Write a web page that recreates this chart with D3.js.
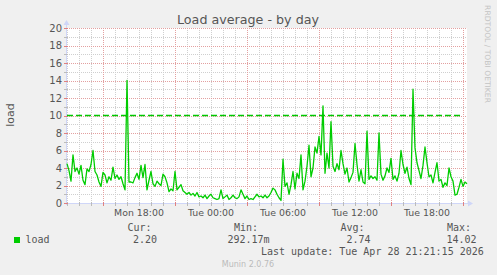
<!DOCTYPE html>
<html><head><meta charset="utf-8">
<script src="https://cdn.jsdelivr.net/npm/d3@7"></script>
<style>
html,body{margin:0;padding:0;background:#F0F0F0;}
svg{display:block;}
</style></head>
<body>
<svg id="chart" width="497" height="275"></svg>
<script>
// ---- data ----
const title = "Load average - by day";
const yLabel = "load";
const startTime = new Date(2026, 3, 27, 12, 0);   // Mon 12:00
const endTime   = new Date(2026, 3, 28, 21, 20);  // Tue 21:20
const stepMinutes = 10;
const loadValues = [
 4.5, 3.7, 2.5, 5.5, 3.6, 4.0, 3.3, 4.3, 2.6, 2.1,
 3.9, 3.6, 4.4, 6.0, 3.6, 3.2, 2.4, 1.9, 3.5, 3.2,
 2.3, 3.0, 2.6, 4.1, 2.8, 3.2, 2.7, 3.0, 2.2, 1.5,
 14.02, 2.4, 2.4, 2.3, 2.9, 3.4, 2.7, 4.3, 2.9, 4.4,
 1.5, 2.6, 3.6, 2.2, 1.9, 2.5, 2.2, 2.0, 3.3, 3.0,
 2.3, 1.3, 1.6, 1.4, 3.6, 1.5, 1.8, 2.1, 1.4, 1.2,
 1.0, 1.2, 0.9, 1.1, 0.8, 1.2, 0.7, 0.8, 0.6, 0.9,
 0.5, 0.8, 1.0, 0.6, 0.5, 0.4, 0.5, 1.5, 0.5, 0.7,
 0.9, 0.4, 0.6, 0.9, 0.6, 0.5, 0.7, 1.5, 1.0, 0.5,
 0.8, 0.4, 0.5, 0.4, 0.7, 1.0, 0.7, 0.8, 0.6, 0.9,
 0.6, 0.8, 1.2, 1.7, 1.5, 1.0, 0.6, 0.29, 5.0, 1.9,
 2.3, 1.0, 2.1, 3.6, 1.6, 3.4, 2.8, 5.5, 1.5, 2.5,
 4.2, 6.6, 3.0, 4.0, 6.4, 5.7, 7.6, 5.5, 11.1, 3.4,
 5.7, 4.0, 9.3, 4.2, 3.6, 4.5, 3.8, 6.0, 4.5, 3.3,
 4.0, 2.4, 2.9, 3.5, 6.8, 4.4, 2.5, 3.8, 2.4, 2.2,
 8.2, 2.7, 3.1, 2.8, 3.0, 2.6, 8.0, 3.3, 2.6, 3.1,
 4.0, 3.5, 5.1, 2.7, 3.1, 2.5, 3.4, 6.0, 4.4, 3.4,
 4.1, 2.8, 2.1, 13.0, 6.3, 4.6, 3.7, 2.8, 4.3, 6.4,
 4.6, 3.0, 3.2, 2.3, 3.5, 4.6, 2.5, 2.7, 1.8, 2.3,
 2.0, 4.0, 3.0, 2.5, 0.9, 1.0, 1.8, 2.7, 1.9, 2.4,
 2.2
];
const warningLevel = 10;
const yTickValues = [0, 2, 4, 6, 8, 10, 12, 14, 16, 18, 20];
const legendHeaders = ["Cur:", "Min:", "Avg:", "Max:"];
const legendStats = ["2.20", "292.17m", "2.74", "14.02"];
const seriesName = "load";
const lastUpdate = "Last update: Tue Apr 28 21:21:15 2026";
const footer = "Munin 2.0.76";
const watermark = "RRDTOOL / TOBI OETIKER";

// ---- chart ----
const svg = d3.select("#chart");
const L = 67, R = 467, T = 28, B = 203;
const x = d3.scaleTime().domain([startTime, endTime]).range([L, R]);
const y = d3.scaleLinear().domain([0, 20]).range([B, T]);

svg.append("rect").attr("width", 497).attr("height", 275).attr("fill", "#F0F0F0");
svg.append("rect").attr("x", L).attr("y", T).attr("width", R - L).attr("height", B - T).attr("fill", "#FFFFFF");

const grid = svg.append("g").attr("shape-rendering", "crispEdges");
// minor grid
const hours = d3.timeHour.range(startTime, endTime);
grid.selectAll(".vmin").data(hours).join("line")
  .attr("x1", d => Math.round(x(d)) + 0.5).attr("x2", d => Math.round(x(d)) + 0.5)
  .attr("y1", T).attr("y2", B)
  .attr("stroke", "#CFCFCF").attr("stroke-dasharray", "1,1");
const yMinor = d3.range(1, 20, 2);
grid.selectAll(".hmin").data(yMinor).join("line")
  .attr("x1", L).attr("x2", R)
  .attr("y1", d => Math.round(y(d)) + 0.5).attr("y2", d => Math.round(y(d)) + 0.5)
  .attr("stroke", "#CFCFCF").attr("stroke-dasharray", "1,1");
// major grid
const majorHours = hours.filter(d => d.getHours() % 6 === 3);
grid.selectAll(".vmaj").data(majorHours).join("line")
  .attr("x1", d => Math.round(x(d)) + 0.5).attr("x2", d => Math.round(x(d)) + 0.5)
  .attr("y1", T).attr("y2", B)
  .attr("stroke", "#E3A0A0").attr("stroke-dasharray", "1,1");
grid.selectAll(".hmaj").data(yTickValues.filter(v => v > 0)).join("line")
  .attr("x1", L).attr("x2", R)
  .attr("y1", d => Math.round(y(d)) + 0.5).attr("y2", d => Math.round(y(d)) + 0.5)
  .attr("stroke", "#E3A0A0").attr("stroke-dasharray", "1,1");

// axes
const axisColor = "#CFD6F8";
const ax = svg.append("g").attr("shape-rendering", "crispEdges");
ax.append("line").attr("x1", L - 0.5).attr("x2", L - 0.5).attr("y1", B + 2).attr("y2", T - 4).attr("stroke", axisColor);
ax.append("line").attr("x1", L - 3).attr("x2", R + 2).attr("y1", B + 0.5).attr("y2", B + 0.5).attr("stroke", axisColor);
svg.append("path").attr("d", `M${L - 3.5},${T - 3} L${L - 0.5},${T - 8} L${L + 2.5},${T - 3} Z`).attr("fill", axisColor);
svg.append("path").attr("d", `M${R + 1},${B - 2.5} L${R + 6},${B + 0.5} L${R + 1},${B + 3.5} Z`).attr("fill", axisColor);
// x ticks
ax.selectAll(".xt").data(hours).join("line")
  .attr("x1", d => Math.round(x(d)) + 0.5).attr("x2", d => Math.round(x(d)) + 0.5)
  .attr("y1", B - 1).attr("y2", B + 3)
  .attr("stroke", d => d.getHours() % 6 === 3 ? "#E08080" : "#BBBBBB");
// y ticks
ax.selectAll(".yt").data(d3.range(0, 21, 1)).join("line")
  .attr("x1", L - 3).attr("x2", L + 1)
  .attr("y1", d => Math.round(y(d)) + 0.5).attr("y2", d => Math.round(y(d)) + 0.5)
  .attr("stroke", d => d % 2 === 0 ? "#E08080" : "#BBBBBB");

const font = "DejaVu Sans, sans-serif";
const mono = "DejaVu Sans Mono, monospace";
const fontColor = "#555555";

// y tick labels
svg.selectAll(".ylab").data(yTickValues).join("text")
  .attr("x", L - 5).attr("y", d => y(d) + 3.5)
  .attr("text-anchor", "end").attr("font-family", font).attr("font-size", 10)
  .attr("fill", fontColor).text(d => d);

// x labels
const labelHours = hours.filter(d => d.getHours() % 6 === 0 && x(d) > L + 30 && x(d) < R - 30);
const fmt = d3.timeFormat("%a %H:%M");
svg.selectAll(".xlab").data(labelHours).join("text")
  .attr("x", d => x(d)).attr("y", 216)
  .attr("text-anchor", "middle").attr("font-family", font).attr("font-size", 9.4)
  .attr("fill", fontColor).text(d => fmt(d));

// warning line
svg.append("line").attr("x1", L).attr("x2", R - 4)
  .attr("y1", y(warningLevel)).attr("y2", y(warningLevel))
  .attr("stroke", "#00C800").attr("stroke-width", 1.4).attr("stroke-dasharray", "6,3");

// data line
const pts = loadValues.map((v, i) => ({ t: d3.timeMinute.offset(startTime, i * stepMinutes), v }));
const line = d3.line().x(d => x(d.t)).y(d => y(d.v));
svg.append("path").datum(pts).attr("d", line)
  .attr("fill", "none").attr("stroke", "#00CC00").attr("stroke-width", 1.3)
  .attr("stroke-linejoin", "round");

// title
svg.append("text").attr("x", 248).attr("y", 24.3).attr("text-anchor", "middle")
  .attr("font-family", font).attr("font-size", 12.7).attr("fill", fontColor).text(title);

// y axis label
svg.append("text").attr("transform", "translate(14,115) rotate(-90)")
  .attr("text-anchor", "middle").attr("font-family", font).attr("font-size", 11)
  .attr("fill", fontColor).text(yLabel);

// watermark
svg.append("text").attr("transform", "translate(485,54) rotate(90)")
  .attr("text-anchor", "middle").attr("font-family", font).attr("font-size", 7.6)
  .attr("fill", "#C4C4C4").text(watermark);

// legend
const headerX = [127.5, 234, 340.5, 447];
const statX = [133, 227.5, 346.5, 446.5];
svg.selectAll(".lh").data(legendHeaders).join("text")
  .attr("x", (d, i) => headerX[i]).attr("y", 231)
  .attr("font-family", mono).attr("font-size", 10).attr("fill", fontColor).text(d => d);
svg.selectAll(".ls").data(legendStats).join("text")
  .attr("x", (d, i) => statX[i]).attr("y", 243)
  .attr("font-family", mono).attr("font-size", 10).attr("fill", fontColor).text(d => d);
svg.append("rect").attr("x", 14).attr("y", 237).attr("width", 6).attr("height", 6).attr("fill", "#00CC00");
svg.append("text").attr("x", 25.5).attr("y", 243)
  .attr("font-family", mono).attr("font-size", 10).attr("fill", fontColor).text(seriesName);
svg.append("text").attr("x", 261).attr("y", 255)
  .attr("font-family", mono).attr("font-size", 10).attr("fill", fontColor).text(lastUpdate);
svg.append("text").attr("x", 248).attr("y", 267).attr("text-anchor", "middle")
  .attr("font-family", font).attr("font-size", 8).attr("fill", "#BBBBBB").text(footer);
</script>
</body></html>
